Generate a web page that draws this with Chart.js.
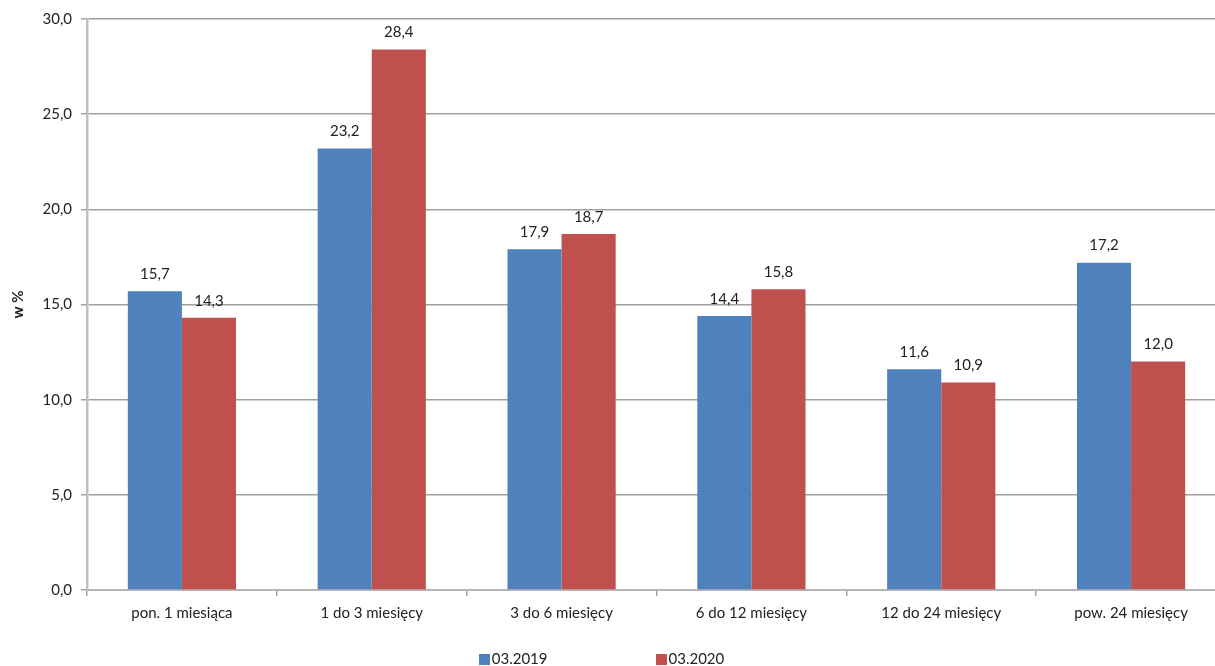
<!DOCTYPE html>
<html>
<head>
  <meta charset="utf-8">
  <title>Bezrobotni wg czasu pozostawania bez pracy</title>
  <script src="https://cdn.jsdelivr.net/npm/chart.js"></script>
  <style>
    body {
      margin: 0;
      background-color: #fff;
      font-family: Lato, sans-serif;
    }
    /* The original plot runs a little past the right edge, so the canvas is wider and clipped */
    .frame {
      position: relative;
      width: 1215px;
      height: 666px;
      overflow: hidden;
    }
    .chart-container {
      position: absolute;
      left: 0;
      top: 0;
      width: 1226px;
      height: 666px;
    }
    .legend {
      position: absolute;
      left: 0;
      right: 12px;
      top: 649px;
      display: flex;
      justify-content: center;
      gap: 108px;
      font-size: 15px;
      color: #222;
    }
    .legend span.box {
      display: inline-block;
      width: 11px;
      height: 11px;
      margin-right: 2px;
      vertical-align: -1px;
    }
  </style>
</head>
<body>
  <div class="frame">
    <div class="chart-container">
      <canvas id="chartDuration"></canvas>
    </div>
    <div class="legend" id="legend"></div>
  </div>

  <script>
    // Categories: time spent without work
    const categories = ["pon. 1 miesiąca", "1 do 3 miesięcy", "3 do 6 miesięcy", "6 do 12 miesięcy", "12 do 24 miesięcy", "pow. 24 miesięcy"];

    // Share in % for each period
    const values2019 = [15.7, 23.2, 17.9, 14.4, 11.6, 17.2];
    const values2020 = [14.3, 28.4, 18.7, 15.8, 10.9, 12.0];

    const seriesLabels = ["03.2019", "03.2020"];
    const seriesColors = ["#4F81BD", "#C0504D"];

    const fmt = v => v.toFixed(1).replace('.', ',');

    // Draws the value above every bar
    const valueLabels = {
      id: 'valueLabels',
      afterDatasetsDraw(chart) {
        const ctx = chart.ctx;
        ctx.save();
        ctx.font = '15px Lato';
        ctx.fillStyle = '#222';
        ctx.textAlign = 'center';
        ctx.textBaseline = 'middle';
        chart.data.datasets.forEach((ds, i) => {
          chart.getDatasetMeta(i).data.forEach((bar, j) => {
            ctx.fillText(fmt(ds.data[j]), bar.x, bar.y - 17);
          });
        });
        ctx.restore();
      }
    };

    const ctx = document.getElementById('chartDuration').getContext('2d');
    const chart = new Chart(ctx, {
      type: 'bar',
      data: {
        labels: categories,
        datasets: [
          {
            label: seriesLabels[0],
            data: values2019,
            backgroundColor: seriesColors[0],
            categoryPercentage: 0.57,
            barPercentage: 1.0
          },
          {
            label: seriesLabels[1],
            data: values2020,
            backgroundColor: seriesColors[1],
            categoryPercentage: 0.57,
            barPercentage: 1.0
          }
        ]
      },
      options: {
        responsive: true,
        maintainAspectRatio: false,
        animation: false,
        layout: {
          padding: { top: 19, right: 0, bottom: 36, left: 0 }
        },
        plugins: {
          legend: { display: false },
          tooltip: { enabled: false }
        },
        scales: {
          x: {
            grid: {
              offset: true,
              drawOnChartArea: false,
              tickLength: 6,
              color: '#A0A0A0',
              lineWidth: 1.5
            },
            border: { color: '#B4B4B4', width: 2 },
            ticks: {
              color: '#222',
              font: { family: 'Lato', size: 15 },
              padding: 8,
              maxRotation: 0
            }
          },
          y: {
            min: 0,
            max: 30,
            afterFit: scale => { scale.width = 87; },
            ticks: {
              stepSize: 5,
              color: '#222',
              font: { family: 'Lato', size: 15 },
              padding: 9,
              callback: v => fmt(v)
            },
            grid: {
              color: '#A0A0A0',
              lineWidth: 1.5,
              tickLength: 6
            },
            border: { color: '#BFBFBF', width: 2.5 },
            title: {
              display: true,
              text: 'w %',
              color: '#222',
              font: { family: 'Lato', size: 15, weight: 'bold' },
              padding: { top: 9, bottom: 0 }
            }
          }
        }
      },
      plugins: [valueLabels]
    });

    // Build the legend from the series arrays
    const legend = document.getElementById('legend');
    seriesLabels.forEach((name, i) => {
      const item = document.createElement('div');
      item.innerHTML = '<span class="box" style="background:' + seriesColors[i] + '"></span>' + name;
      legend.appendChild(item);
    });
  </script>
</body>
</html>
